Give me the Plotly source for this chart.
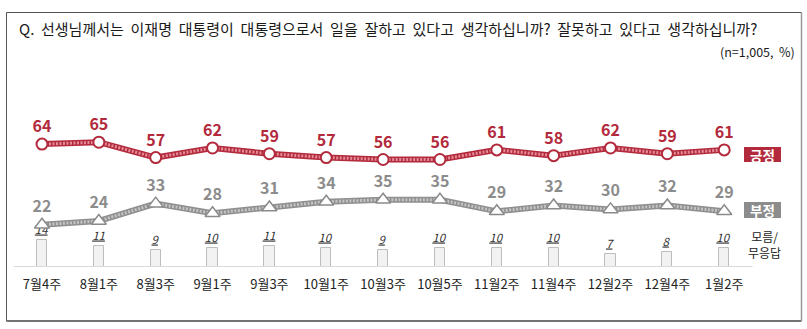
import plotly.graph_objects as go

categories = ["7월4주", "8월1주", "8월3주", "9월1주", "9월3주", "10월1주", "10월3주",
              "10월5주", "11월2주", "11월4주", "12월2주", "12월4주", "1월2주"]
positive = [64, 65, 57, 62, 59, 57, 56, 56, 61, 58, 62, 59, 61]
negative = [22, 24, 33, 28, 31, 34, 35, 35, 29, 32, 30, 32, 29]
dontknow = [14, 11, 9, 10, 11, 10, 9, 10, 10, 10, 7, 8, 10]

title_text = "Q.  선생님께서는  이재명  대통령이  대통령으로서  일을  잘하고  있다고  생각하십니까?  잘못하고  있다고  생각하십니까?"
note_text = "(n=1,005,  %)"

FONT = "Noto Sans CJK KR"
RED = "#b22a3c"

W, H = 807, 329
PLOT_BOTTOM = 267
PX_PER_UNIT = 1.92
X0, DX = 42, 56.85

idx = list(range(len(categories)))

fig = go.Figure()

# bars (모름/무응답)
fig.add_trace(go.Bar(
    x=idx, y=dontknow, width=0.18,
    marker=dict(color="#f2f2f2", line=dict(color="#bdbdbd", width=1)),
    text=[f"<i><u>{v}</u></i>" for v in dontknow],
    textposition="outside", cliponaxis=False, constraintext="none",
    textfont=dict(family=FONT, size=11.5, color="#333"),
    hoverinfo="skip", showlegend=False,
))

# positive line (hatched look)
fig.add_trace(go.Scatter(x=idx, y=positive, mode="lines",
                         line=dict(color=RED, width=6), hoverinfo="skip", showlegend=False))
fig.add_trace(go.Scatter(x=idx, y=positive, mode="lines",
                         line=dict(color="#e58c99", width=3, dash="2px,1.5px"),
                         hoverinfo="skip", showlegend=False))
fig.add_trace(go.Scatter(x=idx, y=positive, mode="markers+text",
                         marker=dict(symbol="circle", size=11, color="white",
                                     line=dict(color=RED, width=2)),
                         text=[f"<b>{v}</b>" for v in positive], textposition="top center",
                         textfont=dict(family=FONT, size=16, color=RED),
                         cliponaxis=False, hoverinfo="skip", showlegend=False))

# negative line
fig.add_trace(go.Scatter(x=idx, y=negative, mode="lines",
                         line=dict(color="#8f8f8f", width=6), hoverinfo="skip", showlegend=False))
fig.add_trace(go.Scatter(x=idx, y=negative, mode="lines",
                         line=dict(color="#c4c4c4", width=3, dash="2px,1.5px"),
                         hoverinfo="skip", showlegend=False))
fig.add_trace(go.Scatter(x=idx, y=negative, mode="markers+text",
                         marker=dict(symbol="triangle-up", size=13, color="white",
                                     line=dict(color="#8a8a8a", width=1.5)),
                         text=[f"<b>{v}</b>" for v in negative], textposition="top center",
                         textfont=dict(family=FONT, size=16, color="#8c8c8c"),
                         cliponaxis=False, hoverinfo="skip", showlegend=False))

xr0 = -X0 / DX
xr1 = xr0 + W / DX
yr1 = PLOT_BOTTOM / PX_PER_UNIT


def py(px):
    return (PLOT_BOTTOM - px) / PLOT_BOTTOM


def pxx(px):
    return px / W


shapes = [
    # baseline
    dict(type="line", xref="x", yref="y", x0=-0.5, x1=len(categories) - 0.5, y0=0, y1=0,
         line=dict(color="#d9d9d9", width=2)),
    # frame
    dict(type="line", xref="paper", yref="paper", x0=pxx(6.5), x1=pxx(801.5), y0=py(12.5), y1=py(12.5),
         line=dict(color="#555", width=1)),
    dict(type="line", xref="paper", yref="paper", x0=pxx(6.5), x1=pxx(801.5), y0=py(321), y1=py(321),
         line=dict(color="#444", width=1.5)),
    dict(type="line", xref="paper", yref="paper", x0=pxx(6.5), x1=pxx(6.5), y0=py(12.5), y1=py(321),
         line=dict(color="#555", width=1)),
    dict(type="line", xref="paper", yref="paper", x0=pxx(801.5), x1=pxx(801.5), y0=py(12.5), y1=py(321),
         line=dict(color="#999", width=1.5)),
    # legend boxes
    dict(type="rect", xref="paper", yref="paper", x0=pxx(744), x1=pxx(781), y0=py(147), y1=py(162),
         fillcolor=RED, line=dict(width=0)),
    dict(type="rect", xref="paper", yref="paper", x0=pxx(744), x1=pxx(781), y0=py(202), y1=py(218),
         fillcolor="#8c8c8c", line=dict(width=0)),
]

annotations = [
    dict(x=pxx(17), y=py(28), xref="paper", yref="paper", xanchor="left", yanchor="middle",
         text=title_text, showarrow=False, font=dict(family=FONT, size=15, color="#1a1a1a")),
    dict(x=pxx(797), y=py(51), xref="paper", yref="paper", xanchor="right", yanchor="middle",
         text=note_text, showarrow=False, font=dict(family=FONT, size=12.5, color="#1a1a1a")),
    dict(x=pxx(762.5), y=py(154.5), xref="paper", yref="paper", xanchor="center", yanchor="middle",
         text="<b>긍정</b>", showarrow=False, font=dict(family=FONT, size=13.5, color="white")),
    dict(x=pxx(762.5), y=py(210), xref="paper", yref="paper", xanchor="center", yanchor="middle",
         text="<b>부정</b>", showarrow=False, font=dict(family=FONT, size=13.5, color="white")),
    dict(x=pxx(764), y=py(244), xref="paper", yref="paper", xanchor="center", yanchor="middle",
         text="모름/<br>무응답", showarrow=False, font=dict(family=FONT, size=12, color="#222")),
]

fig.update_layout(
    width=W, height=H,
    margin=dict(l=0, r=0, t=0, b=H - PLOT_BOTTOM, pad=0),
    paper_bgcolor="white", plot_bgcolor="white",
    xaxis=dict(range=[xr0, xr1], tickmode="array", tickvals=idx, ticktext=categories,
               showgrid=False, zeroline=False, showline=False,
               ticks="outside", ticklen=5, tickcolor="rgba(0,0,0,0)",
               tickfont=dict(family=FONT, size=13, color="#222"), fixedrange=True),
    yaxis=dict(range=[0, yr1], visible=False, fixedrange=True),
    shapes=shapes, annotations=annotations,
    bargap=0,
)

fig.write_html("out.html")
